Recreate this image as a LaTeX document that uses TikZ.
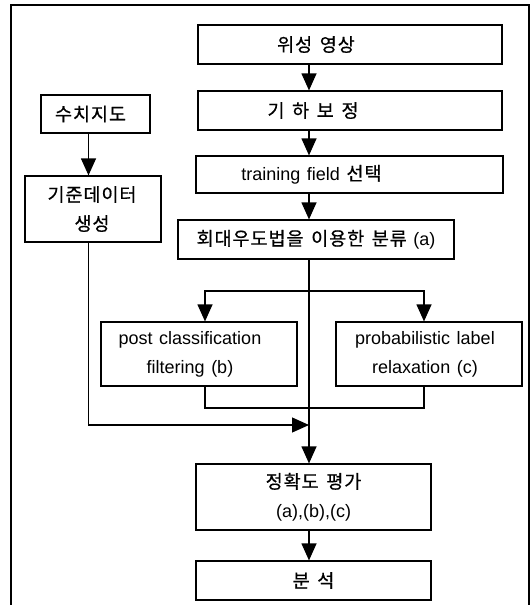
\documentclass[tikz,border=0pt]{standalone}
\usepackage{fontspec}
\setmainfont{Liberation Sans}[WordSpace=1.3]
\newfontfamily\kr{Noto Sans CJK KR}[Scale=1.03, LetterSpace=5, WordSpace=1.5, FakeBold=0.6]
\usetikzlibrary{arrows.meta}
\begin{document}
\begin{tikzpicture}[x=1pt,y=-1pt]
\tikzset{
  box/.style={draw, line width=1.2pt, inner sep=0pt},
  txt/.style={inner sep=0pt, align=center, font=\fontsize{18}{29}\selectfont},
  arr/.style={line width=1.2pt, -{Triangle[width=15pt,length=17pt]}},
  ln/.style={line width=1.2pt},
  frame/.style={line width=1.4pt}
}
\useasboundingbox (0,0) rectangle (530,605);
\draw[frame] (11,605) -- (11,5) -- (529,5) -- (529,605);

\coordinate (mx) at (309,0);
\coordinate (lx) at (88.5,0);
\coordinate (bx) at (205,0);
\coordinate (cx) at (424,0);

\node[box, minimum width=304pt, minimum height=39pt] (sat) at (350,44.5) {};
\node[box, minimum width=304pt, minimum height=39pt] (geo) at (350,110.5) {};
\node[box, minimum width=307pt, minimum height=37pt] (train) at (349.5,174.5) {};
\node[box, minimum width=109pt, minimum height=38pt] (map) at (95.5,114) {};
\node[box, minimum width=136pt, minimum height=66pt] (ref) at (93,209) {};
\node[box, minimum width=276pt, minimum height=39pt] (mle) at (316,239.5) {};
\node[box, minimum width=196pt, minimum height=64pt] (post) at (199,354) {};
\node[box, minimum width=186pt, minimum height=64pt] (prob) at (429,354) {};
\node[box, minimum width=235pt, minimum height=66pt] (acc) at (313.5,497) {};
\node[box, minimum width=235pt, minimum height=39pt] (ana) at (313.5,580.5) {};

\node[txt] (satT) at ([xshift=-34pt]sat.center) {\kr 위성 영상};
\node[txt] (geoT) at ([xshift=-37pt]geo.center) {\kr 기 하 보 정};
\node[txt] (trainT) at ([xshift=-38pt]train.center) {training field {\kr 선택}};
\node[txt] (mapT) at ([xshift=-5pt]map.center) {\kr 수치지도};
\node[txt] (refT) at ([xshift=-1pt]ref.center) {{\kr 기준데이터}\\{\kr 생성}};
\node[txt] (mleT) at (mle.center) {{\kr 회대우도법을 이용한 분류} (a)};
\node[txt] (postT) at ([xshift=-9pt]post.center) {post classification\\filtering (b)};
\node[txt] (probT) at ([xshift=-4pt]prob.center) {probabilistic label\\relaxation (c)};
\node[txt] (accT) at (acc.center) {{\kr 정확도 평가}\\(a),(b),(c)};
\node[txt] (anaT) at (ana.center) {\kr 분 석};

\coordinate (br) at (309,291);
\coordinate (mg) at (309,408);
\coordinate (jn) at (309,425);

\draw[arr] (sat.south -| mx) -- (geo.north -| mx);
\draw[arr] (geo.south -| mx) -- (train.north -| mx);
\draw[arr] (train.south -| mx) -- (mle.north -| mx);
\draw[arr] (map.south -| lx) -- (ref.north -| lx);
\draw[ln] (mle.south -| mx) -- (br);
\draw[arr] (br) -| (post.north -| bx);
\draw[arr] (br) -| (prob.north -| cx);
\draw[ln] (br) -- (mg);
\draw[ln] (post.south -| bx) |- (mg);
\draw[ln] (prob.south -| cx) |- (mg);
\draw[arr] (ref.south -| lx) |- (jn);
\draw[arr] (mg) -- (acc.north -| mx);
\draw[arr] (acc.south -| mx) -- (ana.north -| mx);
\end{tikzpicture}
\end{document}
